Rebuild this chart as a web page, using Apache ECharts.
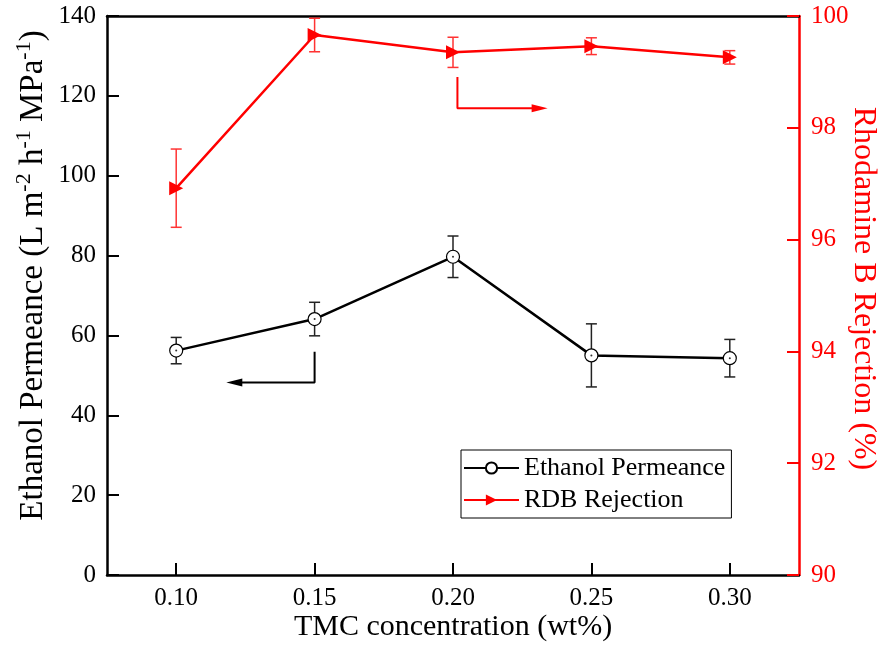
<!DOCTYPE html>
<html>
<head>
<meta charset="utf-8">
<script src="https://cdn.jsdelivr.net/npm/echarts@6.0.0/dist/echarts.min.js"></script>
<style>
html,body{margin:0;padding:0;background:#fff;}
#chart{width:881px;height:657px;}
</style>
</head>
<body>
<div id="chart"></div>
<script>
// ---- data ----
const tmcConcentration = [0.10, 0.15, 0.20, 0.25, 0.30];
const ethanolPermeance = [56.2, 64.1, 79.7, 55.0, 54.3];
const ethanolErr = [3.3, 4.2, 5.2, 7.9, 4.7];
const rdbRejection = [96.92, 99.66, 99.35, 99.46, 99.26];
const rdbErr = [0.70, 0.30, 0.27, 0.15, 0.12];
const xTickValues = [0.10, 0.15, 0.20, 0.25, 0.30];
// annotation arrows (data coordinates)
const permArrow = [[0.15, 55.9], [0.15, 48.2], [0.121, 48.2]];
const rejArrow = [[0.2016, 98.91], [0.2016, 98.35], [0.2313, 98.35]];

const FONT = "'Liberation Serif','Times New Roman',serif";
const RED = '#ff0000';

function errData(xs, ys, es) {
  return xs.map((x, i) => [x, ys[i] - es[i], ys[i] + es[i]]);
}
function errRender(color) {
  return function (params, api) {
    const x = api.value(0);
    const lo = api.coord([x, api.value(1)]);
    const hi = api.coord([x, api.value(2)]);
    const w = 5.5;
    const st = { stroke: color, lineWidth: 1.5 };
    return {
      type: 'group',
      children: [
        { type: 'line', shape: { x1: hi[0], y1: hi[1], x2: lo[0], y2: lo[1] }, style: st },
        { type: 'line', shape: { x1: hi[0] - w, y1: hi[1], x2: hi[0] + w, y2: hi[1] }, style: st },
        { type: 'line', shape: { x1: lo[0] - w, y1: lo[1], x2: lo[0] + w, y2: lo[1] }, style: st }
      ]
    };
  };
}
function arrowData(pts, rot) {
  return pts.map((p, i) => i === pts.length - 1
    ? { value: p, symbol: 'triangle', symbolSize: [8, 16], symbolRotate: rot }
    : { value: p, symbol: 'none' });
}

const chart = echarts.init(document.getElementById('chart'));
chart.setOption({
  animation: false,
  backgroundColor: '#fff',
  textStyle: { fontFamily: FONT },
  grid: { left: 107, right: 82, top: 16, bottom: 82, containLabel: false, outerBoundsMode: 'none' },
  legend: {
    data: ['Ethanol Permeance', 'RDB Rejection'],
    orient: 'vertical',
    left: 461, top: 450,
    padding: [5, 6, 5, 2],
    itemGap: 6,
    itemWidth: 55, itemHeight: 14,
    borderColor: '#000', borderWidth: 1,
    backgroundColor: '#fff',
    textStyle: { fontFamily: FONT, fontSize: 26, color: '#000' },
    selectedMode: false
  },
  xAxis: [{
    type: 'value', min: 0.075, max: 0.325,
    name: 'TMC concentration (wt%)', nameLocation: 'middle', nameGap: 37, nameMoveOverlap: false,
    nameTextStyle: { fontFamily: FONT, fontSize: 30, color: '#000' },
    axisLine: { lineStyle: { color: '#000', width: 2.5 } },
    axisTick: { inside: true, length: 12, lineStyle: { width: 2, color: '#000' }, customValues: xTickValues },
    axisLabel: { fontFamily: FONT, fontSize: 25, color: '#000', margin: 11, customValues: xTickValues,
      formatter: v => v.toFixed(2) },
    splitLine: { show: false }
  }, {
    type: 'value', min: 0.075, max: 0.325, position: 'top',
    axisLine: { lineStyle: { color: '#000', width: 2.5 } },
    axisTick: { show: false }, axisLabel: { show: false }, splitLine: { show: false }
  }],
  yAxis: [{
    type: 'value', min: 0, max: 140, interval: 20, position: 'left',
    name: 'Ethanol Permeance (L m{sup|-2} h{sup|-1} MPa{sup|-1})',
    nameLocation: 'middle', nameGap: 54, nameMoveOverlap: false,
    nameTextStyle: { fontFamily: FONT, fontSize: 33, lineHeight: 40, color: '#000', padding: [0, 0, 0, 40],
      rich: { sup: { fontFamily: FONT, fontSize: 22, lineHeight: 22, color: '#000', verticalAlign: 'top' } } },
    axisLine: { show: true, lineStyle: { color: '#000', width: 2.5 } },
    axisTick: { show: true, inside: true, length: 12, lineStyle: { width: 2, color: '#000' } },
    axisLabel: { fontFamily: FONT, fontSize: 25, color: '#000', margin: 11 },
    splitLine: { show: false }
  }, {
    type: 'value', min: 90, max: 100, interval: 2, position: 'right',
    name: 'Rhodamine B Rejection (%)', nameLocation: 'middle', nameGap: 48, nameRotate: -90, nameMoveOverlap: false,
    nameTextStyle: { fontFamily: FONT, fontSize: 32, color: RED, padding: [0, 14, 0, 0] },
    axisLine: { show: true, lineStyle: { color: RED, width: 2.5 } },
    axisTick: { show: true, inside: true, length: 12, lineStyle: { width: 2, color: RED } },
    axisLabel: { fontFamily: FONT, fontSize: 25, color: RED, margin: 12 },
    splitLine: { show: false }
  }],
  series: [
    {
      type: 'custom', name: 'permErr', xAxisIndex: 0, yAxisIndex: 0, z: 1, silent: true,
      renderItem: errRender('#222'),
      data: errData(tmcConcentration, ethanolPermeance, ethanolErr),
      encode: { x: 0, y: [1, 2] }
    },
    {
      type: 'custom', name: 'rdbErr', xAxisIndex: 0, yAxisIndex: 1, z: 1, silent: true,
      renderItem: errRender('#ff3333'),
      data: errData(tmcConcentration, rdbRejection, rdbErr),
      encode: { x: 0, y: [1, 2] }
    },
    {
      type: 'line', name: 'Ethanol Permeance', xAxisIndex: 0, yAxisIndex: 0, z: 3,
      data: tmcConcentration.map((x, i) => [x, ethanolPermeance[i]]),
      symbol: 'circle', symbolSize: 13, showSymbol: true,
      itemStyle: { color: '#fff', borderColor: '#000', borderWidth: 1.2 },
      lineStyle: { color: '#000', width: 2.5 },
      emphasis: { disabled: true }
    },
    {
      type: 'scatter', name: 'permDot', xAxisIndex: 0, yAxisIndex: 0, z: 4, silent: true,
      data: tmcConcentration.map((x, i) => [x, ethanolPermeance[i]]),
      symbol: 'circle', symbolSize: 2, itemStyle: { color: '#000' }
    },
    {
      type: 'line', name: 'RDB Rejection', xAxisIndex: 0, yAxisIndex: 1, z: 3,
      data: tmcConcentration.map((x, i) => [x, rdbRejection[i]]),
      symbol: 'triangle', symbolSize: 14, symbolRotate: -90, showSymbol: true,
      itemStyle: { color: RED },
      lineStyle: { color: RED, width: 2.5 },
      emphasis: { disabled: true }
    },
    {
      type: 'line', name: 'permArrow', xAxisIndex: 0, yAxisIndex: 0, z: 2, silent: true,
      data: arrowData(permArrow, 90), showSymbol: true,
      itemStyle: { color: '#000' }, lineStyle: { color: '#000', width: 2 }
    },
    {
      type: 'line', name: 'rejArrow', xAxisIndex: 0, yAxisIndex: 1, z: 2, silent: true,
      data: arrowData(rejArrow, -90), showSymbol: true,
      itemStyle: { color: RED }, lineStyle: { color: RED, width: 2 }
    }
  ]
});
</script>
</body>
</html>
